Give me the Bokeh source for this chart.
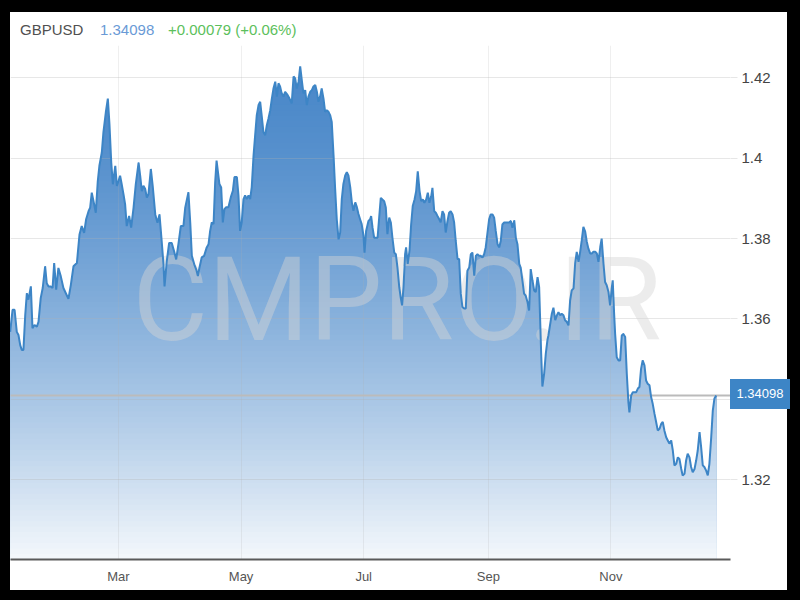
import numpy as np
import pandas as pd
from bokeh.plotting import figure
from bokeh.layouts import column
from bokeh.models import (Range1d, FixedTicker, DatetimeTickFormatter,
                          NumeralTickFormatter, Label, Div)
from bokeh.embed import file_html
from bokeh.resources import INLINE

# ---------------- data ----------------
symbol = "GBPUSD"
last_price = 1.34098
last_price_text = "1.34098"
change_text = "+0.00079 (+0.06%)"
watermark = "CMPRO.IR"
year_start = "2021-01-01"

# days since 2021-01-01
day_offsets = [
    5.1, 6.3, 7.3, 8.4, 9.25, 10.1, 10.9, 11.7, 12.6, 13.4, 14.2, 15.4, 16.2, 17.2, 18.4, 19.2,
    20.3, 21.3, 22.5, 23.3, 24.2, 25.3, 26.2, 27.0, 28.0, 29.1, 30.3, 31.6, 32.8, 34.1, 35.3,
    36.6, 38.3, 39.6, 40.7, 41.9, 42.9, 44.1, 44.9, 45.7, 46.9, 47.7, 48.7, 49.5, 50.7, 51.5,
    52.7, 53.7, 54.5, 55.4, 56.2, 57.4, 58.2, 59.0, 59.8, 60.6, 61.5, 62.3, 63.1, 64.3, 65.3,
    66.5, 67.6, 69.0, 69.8, 70.6, 71.4, 72.3, 73.1, 73.9, 75.1, 76.1, 77.3, 78.4, 79.4, 80.5,
    81.4, 81.9, 83.0, 84.2, 85.5, 86.7, 87.7, 88.9, 90.0, 91.3, 92.2,
    93.8, 94.7, 95.5, 96.7, 97.7, 98.5, 99.3, 100.4, 101.6, 102.9, 103.8, 104.6, 105.4, 106.3,
    107.1, 107.8, 108.4, 109.2, 110.1, 110.9, 111.7, 112.6, 113.7, 114.9, 115.9, 116.7, 117.9,
    118.7, 119.5, 120.3, 121.2, 122.0, 122.8, 123.7, 124.5, 125.3, 126.2, 127.0, 127.8, 128.7,
    129.5, 130.3, 131.1, 132.0, 132.8, 133.6, 134.5, 135.3, 136.1, 137.0, 137.8, 138.6, 139.4,
    140.2, 141.1, 141.9, 143.1, 144.1, 145.2, 146.1, 146.9, 147.7, 148.6, 149.4, 150.2, 151.0,
    151.9, 152.7, 153.5, 154.4, 155.2, 156.0, 156.9, 157.7, 158.5, 159.3, 160.1, 161.0, 161.8,
    162.6, 163.5, 164.3, 165.1, 166.0, 166.8, 167.6, 168.5, 169.3, 170.1, 170.9, 171.8, 172.6,
    173.4, 174.3, 175.1, 175.9, 176.8, 177.6, 178.4, 179.2, 180.0, 180.9, 181.4, 182.2,
    183.4, 184.2, 184.7, 185.4, 186.2, 187.0, 187.9, 188.7, 189.5, 190.3, 191.2, 192.0, 192.8,
    193.7, 194.5, 195.3, 196.2, 197.0, 197.8, 198.7, 199.4, 200.1, 200.8, 201.6, 202.1, 202.9,
    203.8, 204.6, 205.4, 206.3, 207.1, 207.9, 208.8, 209.6, 210.4, 211.2, 212.1, 212.9, 213.7,
    214.6, 215.2, 216.1, 216.9, 217.7, 218.6, 219.3, 220.2, 221.0, 221.8, 222.7, 223.5, 224.3,
    225.2, 226.0, 226.8, 227.7, 228.5, 229.3, 230.1, 231.0, 231.8, 232.6, 233.5, 234.3, 235.1,
    236.0, 236.8, 237.6, 238.4, 239.2, 240.1, 240.9, 241.7, 242.6, 243.4, 244.2, 245.1, 245.9,
    246.7, 247.6, 248.4, 249.2, 250.0, 250.9, 251.7, 252.5, 253.4, 254.2, 255.0, 255.9, 256.7,
    257.5, 258.4, 259.1, 260.0, 260.8, 261.6, 262.5, 263.3, 264.1, 265.0, 265.8, 266.6, 267.5,
    268.3, 268.8, 269.3, 269.9, 270.8, 271.6, 272.4,
    272.9, 273.8, 274.6, 275.4, 276.3, 277.1, 277.9, 278.8, 279.5, 280.4, 281.2, 282.0, 282.9,
    283.7, 284.5, 285.4, 286.2, 287.0, 287.9, 288.7, 289.5, 290.3, 291.2, 292.0, 292.8, 293.7,
    294.5, 295.3, 296.2, 297.0, 297.8, 298.7, 299.4, 300.3, 301.1, 301.9, 302.8, 303.6, 304.4,
    304.9, 305.6, 306.1, 306.9, 307.8, 308.6, 309.4, 310.2, 311.1, 311.9, 312.7, 313.2, 314.1,
    314.9, 315.7, 316.6, 317.4, 318.2, 319.0, 319.8, 320.7, 321.5, 322.3, 323.2, 324.0, 324.8,
    325.7, 326.5, 327.3, 328.2, 329.0, 329.8, 330.6, 331.5, 332.3, 333.1, 334.0, 334.8, 335.6,
    336.5, 337.3, 338.1, 339.0, 339.7, 340.6, 341.4, 342.2, 343.1, 343.9, 344.7, 345.6, 346.4,
    347.2, 348.1, 348.9, 349.7, 350.5, 351.4, 352.2, 353.0, 353.9, 354.7, 355.5, 356.4,
]

rates = [
    1.3568, 1.3623, 1.3623, 1.3568, 1.3560, 1.3535, 1.3523, 1.3523, 1.3610, 1.3664, 1.3648, 1.3681, 1.3577, 1.3585, 1.3581, 1.3593,
    1.3652, 1.3677, 1.3731, 1.3689, 1.3681, 1.3681, 1.3677, 1.3739, 1.3673, 1.3727, 1.3706, 1.3677, 1.3664, 1.3650, 1.3685,
    1.3731, 1.3739, 1.3810, 1.3831, 1.3814, 1.3848, 1.3868, 1.3877, 1.3914, 1.3885, 1.3864, 1.3943, 1.3981, 1.4014, 1.4064,
    1.4114, 1.4148, 1.4085, 1.3989, 1.3935, 1.3981, 1.3931, 1.3943, 1.3956, 1.3935, 1.3910, 1.3885, 1.3831, 1.3856, 1.3827,
    1.3877, 1.3935, 1.3989, 1.3956, 1.3918, 1.3931, 1.3923, 1.3902, 1.3910, 1.3973, 1.3927, 1.3860, 1.3839, 1.3860, 1.3793,
    1.3735, 1.3681, 1.3743, 1.3789, 1.3789, 1.3768, 1.3748, 1.3789, 1.3831, 1.3831, 1.3877,
    1.3915, 1.3840, 1.3757, 1.3736, 1.3723, 1.3707, 1.3728, 1.3753, 1.3757, 1.3778, 1.3786, 1.3819, 1.3840, 1.3836,
    1.3940, 1.3994, 1.3969, 1.3936, 1.3927, 1.3840, 1.3873, 1.3878, 1.3878, 1.3903, 1.3919, 1.3953, 1.3953,
    1.3907, 1.3819, 1.3840, 1.3898, 1.3907, 1.3898, 1.3907, 1.3898, 1.3928, 1.4007, 1.4057, 1.4107, 1.4132,
    1.4140, 1.4103, 1.4065, 1.4057, 1.4082, 1.4098, 1.4119, 1.4148, 1.4173, 1.4190, 1.4153, 1.4186, 1.4178,
    1.4161, 1.4153, 1.4165, 1.4157, 1.4148, 1.4136, 1.4203, 1.4198, 1.4173, 1.4190, 1.4228, 1.4194, 1.4161,
    1.4169, 1.4132, 1.4153, 1.4165, 1.4169, 1.4178, 1.4182, 1.4165, 1.4140, 1.4153, 1.4173, 1.4148, 1.4115,
    1.4119, 1.4115, 1.4107, 1.4090, 1.4007, 1.3923, 1.3848, 1.3798, 1.3815, 1.3898, 1.3936, 1.3957, 1.3965,
    1.3957, 1.3928, 1.3890, 1.3869, 1.3890, 1.3878, 1.3861, 1.3848, 1.3836, 1.3807, 1.3765, 1.3819,
    1.3844, 1.3848, 1.3856, 1.3827, 1.3802, 1.3802, 1.3802, 1.3852, 1.3901, 1.3897, 1.3893, 1.3877, 1.3811,
    1.3852, 1.3840, 1.3802, 1.3765, 1.3761, 1.3728, 1.3679, 1.3654, 1.3634, 1.3679, 1.3761, 1.3778, 1.3737,
    1.3770, 1.3835, 1.3881, 1.3897, 1.3918, 1.3967, 1.3918, 1.3893, 1.3897, 1.3889, 1.3897, 1.3914, 1.3889,
    1.3905, 1.3926, 1.3868, 1.3864, 1.3856, 1.3848, 1.3840, 1.3868, 1.3860, 1.3815, 1.3844, 1.3864, 1.3868,
    1.3860, 1.3840, 1.3794, 1.3749, 1.3749, 1.3663, 1.3630, 1.3626, 1.3626, 1.3720, 1.3728, 1.3761, 1.3765,
    1.3708, 1.3757, 1.3761, 1.3757, 1.3757, 1.3753, 1.3761, 1.3778, 1.3815, 1.3848, 1.3860, 1.3860, 1.3852,
    1.3819, 1.3786, 1.3778, 1.3794, 1.3835, 1.3840, 1.3840, 1.3840, 1.3840, 1.3844, 1.3827, 1.3845, 1.3802,
    1.3786, 1.3737, 1.3728, 1.3695, 1.3663, 1.3658, 1.3642, 1.3621, 1.3724, 1.3695, 1.3671, 1.3667, 1.3704,
    1.3679, 1.3597, 1.3514, 1.3432, 1.3465, 1.3514, 1.3547,
    1.3559, 1.3588, 1.3613, 1.3628, 1.3597, 1.3609, 1.3617, 1.3609, 1.3613, 1.3609, 1.3597, 1.3593, 1.3584,
    1.3646, 1.3671, 1.3676, 1.3738, 1.3767, 1.3742, 1.3767, 1.3796, 1.3829, 1.3817, 1.3792, 1.3775, 1.3763,
    1.3763, 1.3767, 1.3767, 1.3763, 1.3742, 1.3779, 1.3800, 1.3738, 1.3692, 1.3684, 1.3667, 1.3634, 1.3676,
    1.3696, 1.3613, 1.3563, 1.3505, 1.3497, 1.3497, 1.3559, 1.3563, 1.3555, 1.3464, 1.3393, 1.3368, 1.3410,
    1.3418, 1.3418, 1.3418, 1.3427, 1.3431, 1.3476, 1.3497, 1.3485, 1.3447, 1.3439, 1.3435, 1.3406, 1.3389,
    1.3364, 1.3344, 1.3323, 1.3327, 1.3339, 1.3344, 1.3323, 1.3306, 1.3298, 1.3290, 1.3298, 1.3273, 1.3236,
    1.3240, 1.3256, 1.3252, 1.3227, 1.3211, 1.3215, 1.3248, 1.3265, 1.3256, 1.3232, 1.3219, 1.3227, 1.3248,
    1.3273, 1.3319, 1.3281, 1.3236, 1.3232, 1.3223, 1.3211, 1.3240, 1.3306, 1.3373, 1.3402, 1.34098,
]

month_ticks = ["2021-03-01", "2021-05-01", "2021-07-01", "2021-09-01", "2021-11-01"]
price_ticks = [1.32, 1.34, 1.36, 1.38, 1.40, 1.42]

# ---------------- derived ----------------
t0 = pd.Timestamp(year_start)
epoch = pd.Timestamp("1970-01-01")
ms_per_day = 86400000.0
t0_ms = (t0 - epoch) / pd.Timedelta(milliseconds=1)
xs = t0_ms + np.array(day_offsets) * ms_per_day
ys = np.array(rates)

x_start = t0_ms + 5.27 * ms_per_day
x_end = t0_ms + 363.5 * ms_per_day
y_lo, y_hi = 1.3002, 1.4280

FONT = "Liberation Sans"
CSS_FONT = "font-family:'Liberation Sans',Arial,sans-serif;"

# header line (symbol, price, change)
header = Div(
    text=(
        '<div style="' + CSS_FONT + 'font-size:15px;'
        'line-height:18px;padding:9px 0 0 10px;white-space:nowrap">'
        '<span style="display:inline-block;width:80px;color:#505050">%s</span>'
        '<span style="display:inline-block;width:68px;color:#6a9ad6">%s</span>'
        '<span style="color:#5cbf5c">%s</span></div>'
    ) % (symbol, last_price_text, change_text),
    width=777, height=33, margin=(12, 13, 0, 10),
    styles={"background-color": "white"},
)

p = figure(width=777, height=545, x_range=Range1d(x_start, x_end),
           y_range=Range1d(y_lo, y_hi), x_axis_type="datetime",
           y_axis_location="right", output_backend="svg", toolbar_location=None,
           tools="", min_border_left=0, min_border_right=57, min_border_top=0,
           min_border_bottom=31, background_fill_color="white",
           border_fill_color="white", outline_line_color=None)
p.margin = (0, 13, 10, 10)
p.styles = {"background-color": "white"}

# gradient fill built from stacked bands
base_rgb = np.array([74, 136, 201])
top_v = ys.max()
n_bands = 90
edges = np.linspace(y_lo, top_v, n_bands + 1)
for k in range(n_bands, 0, -1):
    mid = 0.5 * (edges[k] + edges[k - 1])
    t = (top_v - mid) / (top_v - y_lo)
    a = 0.06 + 0.94 * (1 - t ** 1.5)
    rgb = (255 - a * (255 - base_rgb)).round().astype(int)
    col = "#%02x%02x%02x" % tuple(rgb)
    p.varea(x=xs, y1=y_lo, y2=np.minimum(ys, edges[k]), fill_color=col,
            fill_alpha=1.0, level="underlay")

# current price line
p.hspan(y=[last_price], line_color="#bbbbbb", line_width=2, level="annotation")

p.line(xs, ys, line_color="#3d85c6", line_width=2, level="overlay")

# axes
xax = p.xaxis[0]
xax.ticker = FixedTicker(ticks=[(pd.Timestamp(m) - epoch) / pd.Timedelta(milliseconds=1) for m in month_ticks])
xax.formatter = DatetimeTickFormatter(days="%b", months="%b", years="%b")
xax.axis_line_color = "#5a5a5a"
xax.axis_line_width = 2
xax.major_tick_line_color = None
xax.minor_tick_line_color = None
xax.major_tick_out = 0
xax.major_label_standoff = 9
xax.major_label_text_font = FONT
xax.major_label_text_font_size = "13px"
xax.major_label_text_color = "#555555"

yax = p.yaxis[0]
yax.ticker = FixedTicker(ticks=price_ticks)
yax.formatter = NumeralTickFormatter(format="0.[00]")
yax.axis_line_color = None
yax.major_tick_line_color = "#e6e6e6"
yax.major_tick_out = 7
yax.major_tick_in = 0
yax.minor_tick_line_color = None
yax.major_label_standoff = 4
yax.major_label_text_font = FONT
yax.major_label_text_font_size = "15px"
yax.major_label_text_color = "#444444"

p.xgrid.grid_line_color = "#b0b0b0"
p.xgrid.grid_line_alpha = 0.2
p.ygrid.grid_line_color = "#b0b0b0"
p.ygrid.grid_line_alpha = 0.3
p.xgrid.level = "glyph"
p.ygrid.level = "glyph"

# watermark
p.add_layout(Label(x=122, x_units="screen", y=1.3646, y_units="data", text=watermark,
                   text_font="Roboto", text_font_size="116px", text_color="#d4d4d4",
                   text_alpha=0.45, text_align="left", text_baseline="alphabetic"))

# current price tag (sits over the right axis, outside the plot frame)
tag = Div(
    text=('<div style="' + CSS_FONT + 'font-size:13px;'
          'color:white;background-color:#3d85c6;width:60px;height:30px;line-height:30px;'
          'text-align:center">%s</div>') % last_price_text,
    width=60, height=30, margin=0,
    styles={"position": "absolute", "left": "730px", "top": "379px", "z-index": "10"},
)

root = column(header, p, tag, styles={"position": "absolute", "top": "0px", "left": "0px",
                                      "background-color": "#000000"})

open("out.html", "w").write(file_html(root, INLINE))
